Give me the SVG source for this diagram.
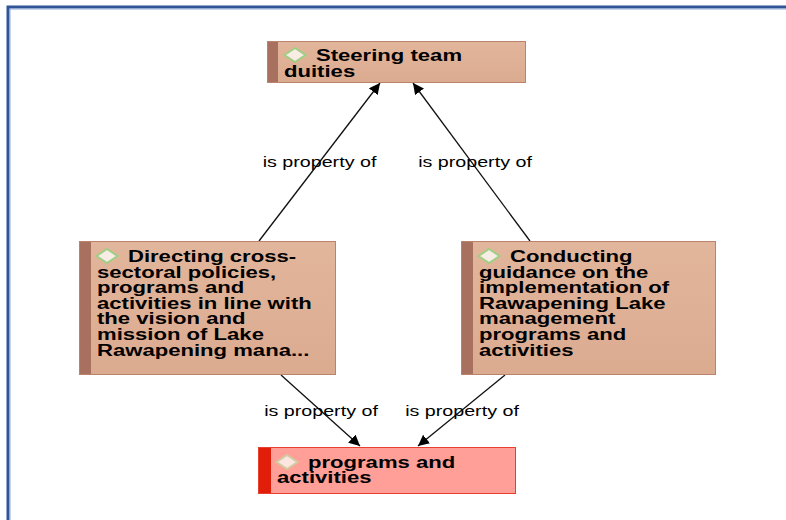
<svg xmlns="http://www.w3.org/2000/svg" width="786" height="520" viewBox="0 0 786 520">
<defs>
<marker id="arr" viewBox="0 0 10 10" refX="10" refY="5" markerWidth="11" markerHeight="11" markerUnits="userSpaceOnUse" orient="auto">
<path d="M0,0 L10,5 L0,10 z" fill="#000"/>
</marker>
<linearGradient id="g" x1="0" y1="0" x2="0" y2="1">
<stop offset="0" stop-color="#e2b69c"/>
<stop offset="1" stop-color="#dbab90"/>
</linearGradient>
</defs>
<style>
.node{fill:url(#g);stroke:#b9836d;stroke-width:1}
.stripe{fill:#a8705f}
.hot{fill:#ff9f97;stroke:#e8402f;stroke-width:1}
.hotstripe{fill:#e01e0a}
.t{font-family:"Liberation Sans",Arial,sans-serif;font-weight:bold;font-size:17px;fill:#000}
.lbl{font-family:"Liberation Sans",Arial,sans-serif;font-size:15.5px;fill:#000;text-anchor:middle}
.edge{stroke:#111;stroke-width:1.3;fill:none;marker-end:url(#arr)}
.dia{fill:#f8ede5;stroke:#9fcf85;stroke-width:2}
.diah{fill:#fde6e1;stroke:#d2cb9f;stroke-width:2}
</style>
<rect x="0" y="0" width="786" height="520" fill="#fff"/>
<path d="M8,525 L8,7 L790,7" fill="none" stroke="#2f5597" stroke-width="3"/>
<path d="M10,525 L10,9 L790,9" fill="none" stroke="#8fa9d6" stroke-width="1"/>

<g id="connectors">
<line class="edge" x1="259" y1="241" x2="380" y2="83"/>
<line class="edge" x1="530" y1="241" x2="413" y2="83"/>
<line class="edge" x1="281" y1="375" x2="360" y2="446"/>
<line class="edge" x1="505" y1="375" x2="418" y2="446"/>
<text class="lbl" transform="translate(319.5,167) scale(1.27,1)">is property of</text>
<text class="lbl" transform="translate(475,167) scale(1.27,1)">is property of</text>
<text class="lbl" transform="translate(321,416) scale(1.27,1)">is property of</text>
<text class="lbl" transform="translate(462,416) scale(1.27,1)">is property of</text>
</g>

<g id="n-steering">
<rect class="node" x="267.5" y="41.5" width="258" height="41"/>
<rect class="stripe" x="268" y="42" width="10" height="40"/>
<path class="dia" d="M284.5,55 L295,48 L305.5,55 L295,62 z"/>
<text class="t" transform="translate(284,0) scale(1.3,1)"><tspan x="24.6" y="61">Steering team</tspan><tspan x="0" y="77">duities</tspan></text>
</g>

<g id="n-directing">
<rect class="node" x="79.5" y="241.5" width="256" height="133"/>
<rect class="stripe" x="80" y="242" width="11" height="132"/>
<path class="dia" d="M96.5,256 L107,249 L117.5,256 L107,263 z"/>
<text class="t" transform="translate(97,0) scale(1.3,1)">
<tspan x="23.8" y="262">Directing cross-</tspan>
<tspan x="0" y="278">sectoral policies,</tspan>
<tspan x="0" y="293.5">programs and</tspan>
<tspan x="0" y="309">activities in line with</tspan>
<tspan x="0" y="324.5">the vision and</tspan>
<tspan x="0" y="340">mission of Lake</tspan>
<tspan x="0" y="356">Rawapening mana...</tspan>
</text>
</g>

<g id="n-conducting">
<rect class="node" x="461.5" y="241.5" width="254" height="133"/>
<rect class="stripe" x="462" y="242" width="11" height="132"/>
<path class="dia" d="M478.5,256 L489,249 L499.5,256 L489,263 z"/>
<text class="t" transform="translate(479,0) scale(1.3,1)">
<tspan x="23.8" y="262">Conducting</tspan>
<tspan x="0" y="278">guidance on the</tspan>
<tspan x="0" y="293.5">implementation of</tspan>
<tspan x="0" y="309">Rawapening Lake</tspan>
<tspan x="0" y="324.5">management</tspan>
<tspan x="0" y="340">programs and</tspan>
<tspan x="0" y="356">activities</tspan>
</text>
</g>

<g id="n-programs">
<rect class="hot" x="258.5" y="447.5" width="257" height="46"/>
<rect class="hotstripe" x="259" y="448" width="12" height="45"/>
<path class="diah" d="M276.5,462 L287,455 L297.5,462 L287,469 z"/>
<text class="t" transform="translate(277,0) scale(1.3,1)"><tspan x="23.8" y="468">programs and</tspan><tspan x="0" y="483">activities</tspan></text>
</g>
</svg>
